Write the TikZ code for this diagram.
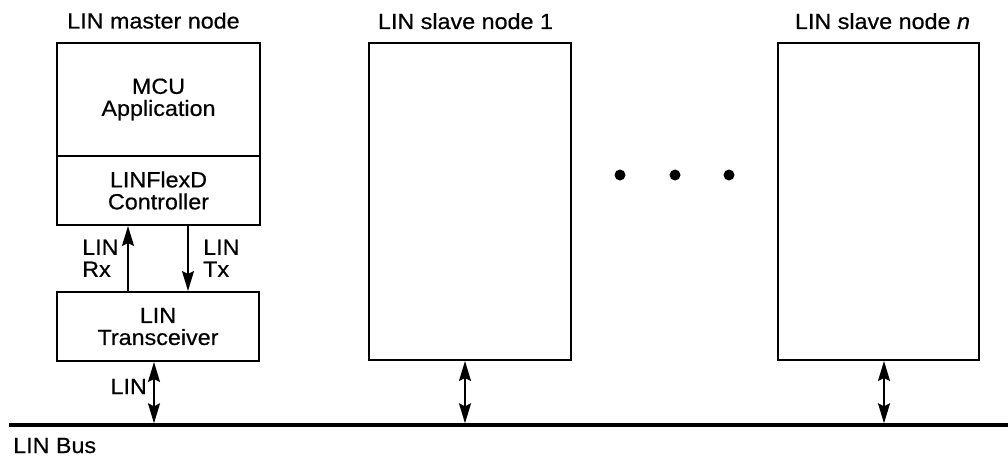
\documentclass[tikz,border=0pt]{standalone}
\usepackage{fontspec}
\setmainfont{Liberation Sans}[FakeStretch=1.06,FakeBold=0.5]
\usetikzlibrary{arrows.meta}
\begin{document}
\begin{tikzpicture}[x=1pt,y=-1pt,
  txt/.style={inner sep=0pt,font=\fontsize{22}{22}\selectfont},
  blk/.style={draw,line width=2pt,inner sep=0pt,align=center,font=\fontsize{22}{22}\selectfont},
  tip/.tip={Stealth[length=20pt,width=12pt,inset=3pt]},
  arr/.style={line width=1.7pt,-tip},
  darr/.style={line width=1.7pt,tip-tip},
  bus/.style={line width=3.4pt}]
\useasboundingbox (0,0) rectangle (1008,457);
% master node
\node[blk,minimum width=203pt,minimum height=113pt] (mcu) at (158.5,99.5) {MCU\\Application};
\node[blk,minimum width=203pt,minimum height=69pt] (ctrl) at (158.5,190.5) {LINFlexD\\Controller};
\node[blk,minimum width=202pt,minimum height=69pt] (trx) at (158,326.5) {LIN\\Transceiver};
\node[txt,anchor=base] (tm) at (153.5,28.5) {LIN master node};
% slave nodes
\node[blk,minimum width=202pt,minimum height=317pt] (s1) at (470,201.5) {};
\node[blk,minimum width=201pt,minimum height=317pt] (sn) at (878.5,201.5) {};
\node[txt,anchor=base] (t1) at (465.5,29) {LIN slave node 1};
\node[txt,anchor=base] (tn) at (882.5,29) {LIN slave node \textit{n}};
% dots
\fill (620,175) circle (5.5pt);
\fill (675,175) circle (5.5pt);
\fill (729,175) circle (5.5pt);
% bus
\coordinate (busL) at (9,425);
\coordinate (busR) at (1008,425);
\draw[bus] (busL) -- (busR);
\node[txt,anchor=base west] (lb) at (13,453) {LIN Bus};
% Rx / Tx
\coordinate (rxx) at (128,0);
\coordinate (txx) at (188,0);
\draw[arr] (trx.north -| rxx) -- (ctrl.south -| rxx);
\draw[arr] (ctrl.south -| txx) -- (trx.north -| txx);
\node[txt,anchor=north west,align=left] (lrx) at (82,239.5) {LIN\\Rx};
\node[txt,anchor=north west,align=left] (ltx) at (203,239.5) {LIN\\Tx};
% bus connections
\coordinate (bm) at (154,423.3);
\coordinate (b1) at (465,423.3);
\coordinate (bn) at (884,423.3);
\draw[darr] (trx.south -| bm) -- (bm);
\draw[darr] (s1.south -| b1) -- (b1);
\draw[darr] (sn.south -| bn) -- (bn);
\node[txt,anchor=base east] (llin) at (147,394) {LIN};
\end{tikzpicture}
\end{document}
